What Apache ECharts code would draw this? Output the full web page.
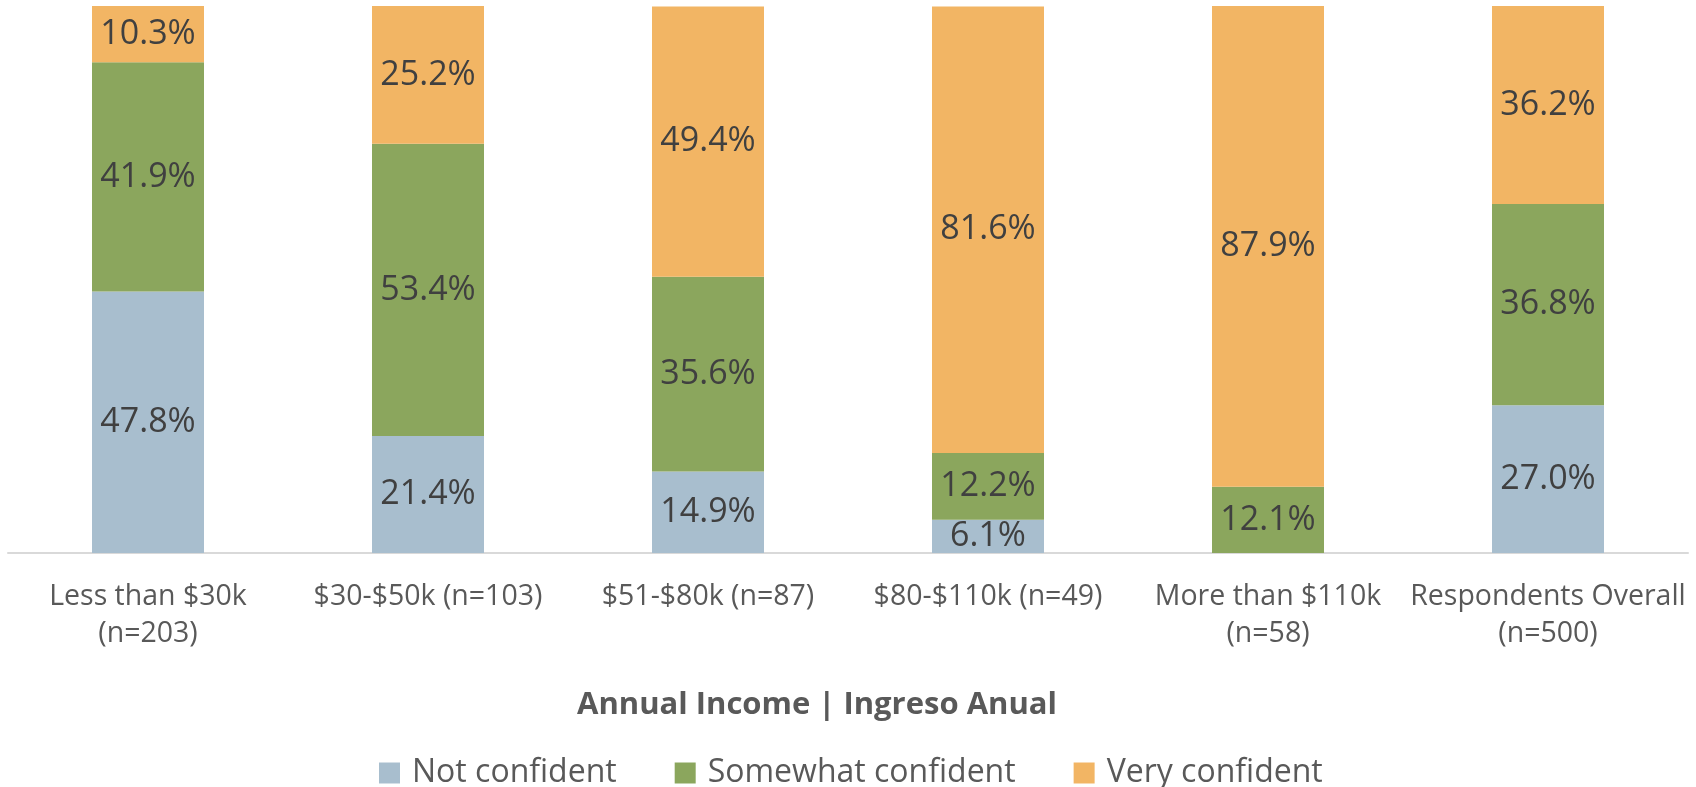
<!DOCTYPE html>
<html>
<head>
<meta charset="utf-8">
<script src="https://cdn.jsdelivr.net/npm/echarts@6/dist/echarts.min.js"></script>
<style>
  html, body { margin: 0; padding: 0; background: #fff; }
  #chart { width: 1696px; height: 787px; }
</style>
</head>
<body>
<div id="chart"></div>
<script>
// income groups
const categories = [
  'Less than $30k\n(n=203)',
  '$30-$50k (n=103)',
  '$51-$80k (n=87)',
  '$80-$110k (n=49)',
  'More than $110k\n(n=58)',
  'Respondents Overall\n(n=500)'
]
const notConfident = [47.8, 21.4, 14.9, 6.1, 0, 27.0]
const somewhatConfident = [41.9, 53.4, 35.6, 12.2, 12.1, 36.8]
const veryConfident = [10.3, 25.2, 49.4, 81.6, 87.9, 36.2]

const FONT = '"Open Sans", "Noto Sans", sans-serif'

function barSeries (name, data, color) {
  return {
    name: name,
    type: 'bar',
    stack: 'total',
    data: data,
    barWidth: '40%',
    itemStyle: { color: color },
    label: {
      show: true,
      position: 'inside',
      color: '#404040',
      fontSize: 34,
      fontFamily: FONT,
      formatter: function (p) {
        return p.value > 0 ? p.value.toFixed(1) + '%' : ''
      }
    }
  }
}

const chart = echarts.init(document.getElementById('chart'))
chart.setOption({
  animation: false,
  textStyle: { fontFamily: FONT },
  title: {
    text: 'Annual Income | Ingreso Anual',
    left: 577,
    top: 685,
    padding: 0,
    textStyle: {
      fontFamily: FONT,
      fontSize: 31,
      fontWeight: 'bold',
      color: '#595959',
      lineHeight: 40
    }
  },
  legend: {
    data: ['Not confident', 'Somewhat confident', 'Very confident'],
    left: 379,
    top: 755,
    padding: 0,
    itemWidth: 21,
    itemHeight: 21,
    itemGap: 58,
    icon: 'rect',
    textStyle: {
      fontFamily: FONT,
      fontSize: 32,
      lineHeight: 36,
      color: '#595959',
      padding: [0, 0, 0, 7]
    }
  },
  grid: {
    left: 8,
    right: 8,
    top: 6,
    bottom: 234
  },
  xAxis: {
    type: 'category',
    data: categories,
    axisTick: { show: false },
    axisLine: { lineStyle: { color: '#d9d9d9', width: 2 } },
    axisLabel: {
      interval: 0,
      margin: 25,
      color: '#595959',
      fontSize: 28.5,
      lineHeight: 37,
      fontFamily: FONT
    }
  },
  yAxis: {
    type: 'value',
    min: 0,
    max: 100,
    show: false,
    splitLine: { show: false }
  },
  series: [
    barSeries('Not confident', notConfident, '#A8BECE'),
    barSeries('Somewhat confident', somewhatConfident, '#8BA65D'),
    barSeries('Very confident', veryConfident, '#F2B564')
  ]
})
</script>
</body>
</html>
